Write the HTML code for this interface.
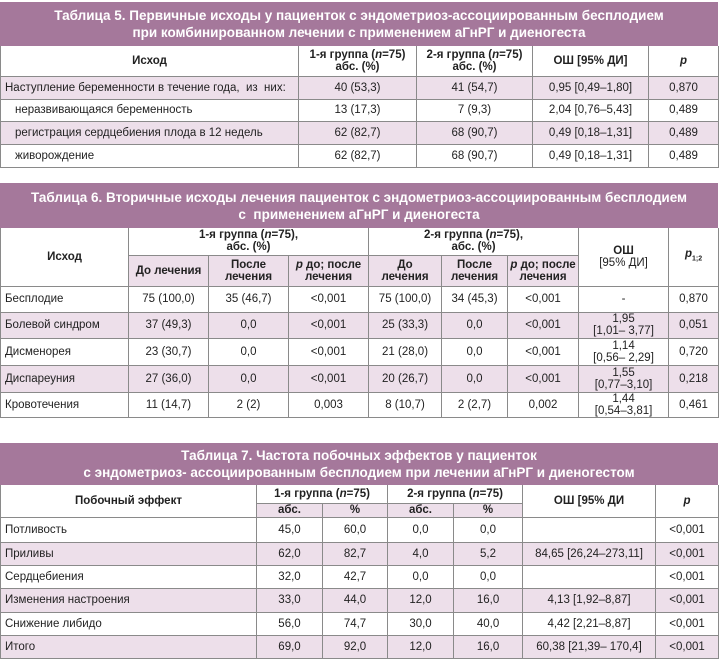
<!DOCTYPE html>
<html><head><meta charset="utf-8"><style>
body{margin:0;width:720px;height:663px;background:#fff;position:relative;font-family:"Liberation Sans Narrow","Liberation Sans",sans-serif;font-size:11.5px;color:#222;overflow:hidden}
.t{position:absolute;left:0;width:718px}
.ttl{background:#a5789b;color:#fff;font-weight:bold;text-align:center;font-size:13.5px;line-height:17px;display:flex;align-items:center;justify-content:center;flex-direction:column}
table{border-collapse:collapse;table-layout:fixed;width:718px}
td{border:1px solid #8a8a8a;text-align:center;padding:0;vertical-align:middle;line-height:12px;white-space:nowrap}
tr.s td{background:#eddfea}
td.s{background:#eddfea}
td.l{text-align:left;padding-left:4px}
td.i{text-align:left;padding-left:14px}
.h td{font-weight:bold}
table tr:first-child td{border-top:none}
</style></head><body>

<div class="t" style="top:2px">
<div class="ttl" style="height:44px"><div>Таблица 5. Первичные исходы у пациенток с эндометриоз-ассоциированным бесплодием</div><div>при комбинированном лечении с применением аГнРГ и диеногеста</div></div>
<table><colgroup><col style="width:298px"><col style="width:118px"><col style="width:116px"><col style="width:116px"><col style="width:70px"></colgroup>
<tr class="h" style="height:30px"><td>Исход</td><td>1-я группа (<i>n</i>=75)<br>абс. (%)</td><td>2-я группа (<i>n</i>=75)<br>абс. (%)</td><td>ОШ [95% ДИ]</td><td><i>p</i></td></tr>
<tr class="s" style="height:23px"><td class="l">Наступление беременности в течение года,&nbsp; из&nbsp; них:</td><td>40 (53,3)</td><td>41 (54,7)</td><td>0,95 [0,49–1,80]</td><td>0,870</td></tr>
<tr style="height:22px"><td class="i">неразвивающаяся беременность</td><td>13 (17,3)</td><td>7 (9,3)</td><td>2,04 [0,76–5,43]</td><td>0,489</td></tr>
<tr class="s" style="height:23px"><td class="i">регистрация сердцебиения плода в 12 недель</td><td>62 (82,7)</td><td>68 (90,7)</td><td>0,49 [0,18–1,31]</td><td>0,489</td></tr>
<tr style="height:23px"><td class="i">живорождение</td><td>62 (82,7)</td><td>68 (90,7)</td><td>0,49 [0,18–1,31]</td><td>0,489</td></tr>
</table></div>

<div class="t" style="top:183px">
<div class="ttl" style="height:45px"><div>Таблица 6. Вторичные исходы лечения пациенток с эндометриоз-ассоциированным бесплодием</div><div>с&nbsp; применением аГнРГ и диеногеста</div></div>
<table><colgroup><col style="width:128px"><col style="width:80px"><col style="width:80px"><col style="width:80px"><col style="width:73px"><col style="width:66px"><col style="width:71px"><col style="width:90px"><col style="width:50px"></colgroup>
<tr class="h" style="height:27px"><td rowspan="2">Исход</td><td colspan="3">1-я группа (<i>n</i>=75),<br>абс. (%)</td><td colspan="3">2-я группа (<i>n</i>=75),<br>абс. (%)</td><td rowspan="2">ОШ<br><span style="font-weight:normal">[95% ДИ]</span></td><td rowspan="2"><i>p</i><sub style="font-size:7px">1;2</sub></td></tr>
<tr class="h" style="height:31px"><td class="s">До лечения</td><td class="s">После<br>лечения</td><td class="s"><i>p</i> до; после<br>лечения</td><td class="s">До<br>лечения</td><td class="s">После<br>лечения</td><td class="s"><i>p</i> до; после<br>лечения</td></tr>
<tr style="height:26px"><td class="l">Бесплодие</td><td>75 (100,0)</td><td>35 (46,7)</td><td>&lt;0,001</td><td>75 (100,0)</td><td>34 (45,3)</td><td>&lt;0,001</td><td>-</td><td>0,870</td></tr>
<tr class="s" style="height:26px"><td class="l">Болевой синдром</td><td>37 (49,3)</td><td>0,0</td><td>&lt;0,001</td><td>25 (33,3)</td><td>0,0</td><td>&lt;0,001</td><td>1,95<br>[1,01– 3,77]</td><td>0,051</td></tr>
<tr style="height:27px"><td class="l">Дисменорея</td><td>23 (30,7)</td><td>0,0</td><td>&lt;0,001</td><td>21 (28,0)</td><td>0,0</td><td>&lt;0,001</td><td>1,14<br>[0,56– 2,29]</td><td>0,720</td></tr>
<tr class="s" style="height:27px"><td class="l">Диспареуния</td><td>27 (36,0)</td><td>0,0</td><td>&lt;0,001</td><td>20 (26,7)</td><td>0,0</td><td>&lt;0,001</td><td>1,55<br>[0,77–3,10]</td><td>0,218</td></tr>
<tr style="height:25px"><td class="l">Кровотечения</td><td>11 (14,7)</td><td>2 (2)</td><td>0,003</td><td>8 (10,7)</td><td>2 (2,7)</td><td>0,002</td><td>1,44<br>[0,54–3,81]</td><td>0,461</td></tr>
</table></div>

<div class="t" style="top:443px">
<div class="ttl" style="height:42px"><div>Таблица 7. Частота побочных эффектов у пациенток</div><div>с эндометриоз- ассоциированным бесплодием при лечении аГнРГ и диеногестом</div></div>
<table><colgroup><col style="width:256px"><col style="width:66px"><col style="width:65px"><col style="width:66px"><col style="width:69px"><col style="width:133px"><col style="width:63px"></colgroup>
<tr class="h" style="height:18px"><td rowspan="2">Побочный эффект</td><td colspan="2">1-я группа (<i>n</i>=75)</td><td colspan="2">2-я группа (<i>n</i>=75)</td><td rowspan="2">ОШ [95% ДИ</td><td rowspan="2"><i>p</i></td></tr>
<tr class="h" style="height:14px"><td class="s">абс.</td><td class="s">%</td><td class="s">абс.</td><td class="s">%</td></tr>
<tr style="height:25px"><td class="l">Потливость</td><td>45,0</td><td>60,0</td><td>0,0</td><td>0,0</td><td></td><td>&lt;0,001</td></tr>
<tr class="s" style="height:23px"><td class="l">Приливы</td><td>62,0</td><td>82,7</td><td>4,0</td><td>5,2</td><td>84,65 [26,24–273,11]</td><td>&lt;0,001</td></tr>
<tr style="height:23px"><td class="l">Сердцебиения</td><td>32,0</td><td>42,7</td><td>0,0</td><td>0,0</td><td></td><td>&lt;0,001</td></tr>
<tr class="s" style="height:24px"><td class="l">Изменения настроения</td><td>33,0</td><td>44,0</td><td>12,0</td><td>16,0</td><td>4,13 [1,92–8,87]</td><td>&lt;0,001</td></tr>
<tr style="height:23px"><td class="l">Снижение либидо</td><td>56,0</td><td>74,7</td><td>30,0</td><td>40,0</td><td>4,42 [2,21–8,87]</td><td>&lt;0,001</td></tr>
<tr class="s" style="height:23px"><td class="l">Итого</td><td>69,0</td><td>92,0</td><td>12,0</td><td>16,0</td><td>60,38 [21,39– 170,4]</td><td>&lt;0,001</td></tr>
</table></div>
</body></html>
